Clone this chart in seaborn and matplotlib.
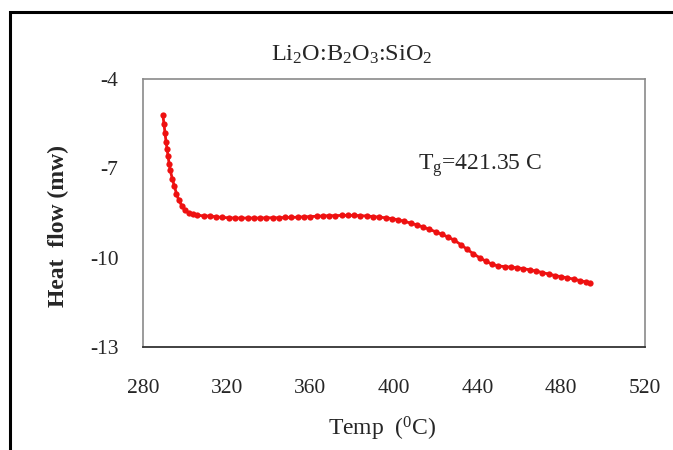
import matplotlib
matplotlib.use("Agg")
import matplotlib.pyplot as plt
import seaborn as sns
import pandas as pd
from matplotlib.patches import Rectangle

sns.set_theme(style="white")
plt.rcParams['font.family'] = ['Liberation Serif', 'DejaVu Serif']
plt.rcParams['mathtext.fontset'] = 'custom'
plt.rcParams['mathtext.rm'] = 'Liberation Serif'
plt.rcParams['mathtext.it'] = 'Liberation Serif'

temp = [289.5, 290.0, 290.5, 291.0, 291.5, 292.0, 292.5, 293.0, 294.0, 295.0,
        296.0, 297.0, 298.5, 300.0, 302.0, 304.0, 306.0, 309.0, 312.0, 315,
        318, 321, 324, 327, 330, 333, 336, 339, 342, 345, 348, 351, 354, 357,
        360, 363, 366, 369, 372, 375, 378, 381, 384, 387, 390, 393, 396, 399,
        402, 405, 408, 411, 414, 417, 420, 423, 426, 429, 432, 435, 438, 441,
        444, 447, 450, 453, 456, 459, 462, 465, 468, 471, 474, 477, 480, 483,
        486, 489, 492, 494]
heat_flow = [-5.2, -5.5, -5.8, -6.1, -6.35, -6.6, -6.85, -7.05, -7.35, -7.6,
             -7.85, -8.05, -8.25, -8.4, -8.5, -8.55, -8.57, -8.6, -8.6, -8.63,
             -8.65, -8.66, -8.67, -8.67, -8.67, -8.67, -8.67, -8.66, -8.66, -8.66,
             -8.65, -8.65, -8.64, -8.63,
             -8.62, -8.61, -8.6, -8.59, -8.59, -8.58, -8.58, -8.58, -8.59, -8.6,
             -8.62, -8.64, -8.66, -8.69,
             -8.73, -8.78, -8.84, -8.9, -8.97, -9.05, -9.13, -9.22, -9.31, -9.42,
             -9.56, -9.72, -9.87, -10.0,
             -10.12, -10.22, -10.28, -10.3, -10.32, -10.34, -10.37, -10.41, -10.45,
             -10.5, -10.55, -10.6, -10.64, -10.68,
             -10.72, -10.77, -10.82, -10.86]

x_ticks = [280, 320, 360, 400, 440, 480, 520]
y_ticks = [-13, -10, -7, -4]

df = pd.DataFrame({"Temp": temp, "Heat flow": heat_flow})

fig = plt.figure(figsize=(6.73, 4.5), dpi=100)
ax = fig.add_axes([0.2125, 0.229, 0.7455, 0.5954])

sns.lineplot(data=df, x="Temp", y="Heat flow", ax=ax, color="#ee1111",
             linewidth=2.0, marker="o", markersize=4.5, markeredgewidth=0,
             sort=False)

ax.set_xlim(280, 520)
ax.set_ylim(-13, -4)
ax.set_xticks(x_ticks)
ax.set_yticks(y_ticks)
ax.set_xticklabels([str(t) for t in x_ticks], fontsize=15.5)
ax.set_yticklabels([str(t) for t in y_ticks], fontsize=15.5)
ax.tick_params(axis='x', direction='inout', length=8, width=1, color='#555555', pad=19)
ax.tick_params(axis='y', direction='out', length=3.6, width=1, color='#555555', pad=14)

for s in ['left', 'top', 'right']:
    ax.spines[s].set_color('#8a8a8a')
    ax.spines[s].set_linewidth(1.2)
ax.spines['bottom'].set_color('#333333')
ax.spines['bottom'].set_linewidth(1.3)

ax.set_xlabel(r"Temp  ($^{0}$C)", fontsize=17)
ax.xaxis.set_label_coords(0.476, -0.255)
ax.set_ylabel("Heat  flow (mw)", fontsize=17, fontweight='bold')
ax.yaxis.set_label_coords(-0.148, 0.45)

fig.text(0.523, 1 - 55 / 450, r"Li$_2$O:B$_2$O$_3$:SiO$_2$", fontsize=17.5,
         ha='center', va='center')
ax.text(411.5, -6.9, r"T$_g$=421.35 C", fontsize=17, va='center', ha='left')

fig.patches.append(Rectangle((0.0149, -0.1), 1.2, 1.073, transform=fig.transFigure,
                             fill=False, edgecolor='black', linewidth=2.2))

fig.savefig("out.png", dpi=100, facecolor='white')
